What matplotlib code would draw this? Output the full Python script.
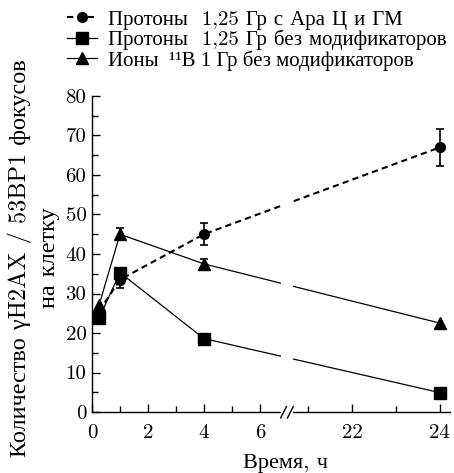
import matplotlib
matplotlib.use("Agg")
import matplotlib.pyplot as plt
from matplotlib.patches import Rectangle
import numpy as np

plt.rcParams["font.family"] = ["cmr10", "Liberation Serif"]
plt.rcParams["axes.unicode_minus"] = False

# Время, ч
time_h = [0.25, 1, 4, 24]

# Протоны 1,25 Гр с Ара Ц и ГМ
foci_ara = [25.5, 33.5, 45.0, 67.0]
err_ara = [np.nan, 2.0, 2.8, 4.6]

# Протоны 1,25 Гр без модификаторов
foci_prot = [23.7, 35.3, 18.6, 4.9]
err_prot = [np.nan, 1.0, np.nan, np.nan]

# Ионы 11B 1 Гр без модификаторов
foci_boron = [27.0, 45.0, 37.5, 22.5]
err_boron = [np.nan, 1.5, 1.3, np.nan]

labels = [
    "Протоны  1,25 Гр с Ара Ц и ГМ",
    "Протоны  1,25 Гр без модификаторов",
    "Ионы  \u00b9\u00b9B 1 Гр без модификаторов",
]

x_major = [0, 2, 4, 6, 22, 24]
x_minor = [1, 3, 5, 21, 23]

# broken time axis: 0..~7 h on a normal scale, then 20.5..24 h stretched
BREAK_LO, BREAK_HI = 6.96, 20.52
STRETCH = 44 / 28
_xp = np.array([-10.0, BREAK_LO, BREAK_HI, 100.0])
_fp = np.array([-10.0, BREAK_LO, BREAK_LO + 0.01,
                BREAK_LO + 0.01 + (100.0 - BREAK_HI) * STRETCH])


def _forward(t):
    return np.interp(t, _xp, _fp)


def _inverse(u):
    return np.interp(u, _fp, _xp)


fig = plt.figure(figsize=(4.54, 4.73), dpi=100)
ax = fig.add_axes([92 / 454, 1 - 412 / 473, 358 / 454, 316 / 473])
ax.set_xscale("function", functions=(_forward, _inverse))

ax.plot(time_h, foci_ara, color="black", lw=1.5, dashes=(3, 2),
        marker="o", ms=7, label=labels[0], zorder=3)
ax.errorbar(time_h, foci_ara, yerr=err_ara, fmt="none", ecolor="black",
            elinewidth=1.2, capsize=3, capthick=1.2, zorder=3)

ax.plot(time_h, foci_prot, color="black", lw=0.9, marker="s", ms=8,
        label=labels[1], zorder=4)
ax.errorbar(time_h, foci_prot, yerr=err_prot, fmt="none", ecolor="black",
            elinewidth=1.2, capsize=3, capthick=1.2, zorder=4)

ax.plot(time_h, foci_boron, color="black", lw=0.9, marker="^", ms=8,
        label=labels[2], zorder=5)
ax.errorbar(time_h, foci_boron, yerr=err_boron, fmt="none", ecolor="black",
            elinewidth=1.2, capsize=3, capthick=1.2, zorder=5)

ax.set_xlim(0, 24.23)
ax.set_ylim(0, 80)
ax.set_xticks(x_major)
ax.set_xticks(x_minor, minor=True)
ax.set_yticks(np.arange(0, 81, 10))
ax.set_yticks(np.arange(0, 81, 5), minor=True)
ax.tick_params(which="both", direction="in", width=1.0, labelsize=15)
ax.tick_params(which="major", length=6)
ax.tick_params(which="minor", length=4)
ax.tick_params(axis="x", pad=9)
ax.tick_params(axis="y", pad=4)

for side in ("top", "right"):
    ax.spines[side].set_visible(False)
for side in ("left", "bottom"):
    ax.spines[side].set_linewidth(1.0)

# gap across lines and spine at the break, then the // marks
ax.add_patch(Rectangle((0.527, -0.03), 0.035, 1.03, transform=ax.transAxes,
                       facecolor="white", lw=0, clip_on=False, zorder=6))
for x0 in (0.527, 0.546):
    ax.plot([x0, x0 + 0.016], [-0.019, 0.017], transform=ax.transAxes,
            color="black", lw=1.0, clip_on=False, zorder=7)

ax.set_xlabel("Время, ч", fontsize=16)
ax.xaxis.set_label_coords(0.54, -0.13)
ax.set_ylabel("Количество \u03b3H2AX / 53BP1 фокусов\nна клетку",
              fontsize=17.5, linespacing=1.4)
ax.yaxis.set_label_coords(-0.088, 0.488)

leg = ax.legend(loc="upper left", bbox_to_anchor=(67 / 454, 1 - 10 / 473),
                bbox_transform=fig.transFigure, frameon=False, fontsize=15,
                handlelength=1.45, handletextpad=0.5, labelspacing=0.0,
                borderpad=0, borderaxespad=0, numpoints=1)
# cmr10 maps U+00B9 to a different glyph, so this entry uses Liberation only
leg.get_texts()[2].set_family(["Liberation Serif"])
leg.get_texts()[2].set_fontsize(15)

fig.savefig("out.png", dpi=100)
